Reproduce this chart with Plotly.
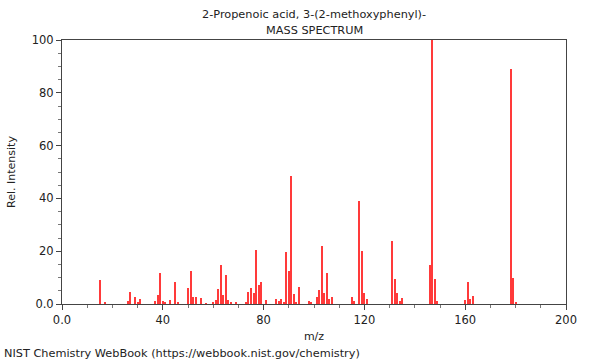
import plotly.graph_objects as go

mz = [15, 17, 26, 27, 29, 30, 31, 37, 38, 39, 40, 41, 43, 45, 46,
      50, 51, 52, 53, 55, 57, 60, 61, 62, 63, 64, 65, 66, 67, 69,
      73, 74, 75, 76, 77, 78, 79, 81, 85, 86, 87, 88, 89, 90, 91, 92, 93, 94,
      98, 99, 101, 102, 103, 104, 105, 106, 107, 115, 116, 118, 119, 120, 121,
      131, 132, 133, 134, 135, 146, 147, 148, 149, 160, 161, 162, 163, 178, 179, 180]
intensity = [9.1, 0.5, 1.1, 4.7, 2.5, 0.9, 1.8, 1.1, 3.4, 11.6, 1.1, 0.9, 1.4, 8.5, 0.4,
             6.1, 12.5, 2.5, 2.8, 2.1, 0.3, 0.4, 1.5, 5.7, 14.8, 3.4, 10.9, 1.5, 0.6, 0.6,
             0.6, 4.5, 6.2, 4.3, 20.4, 7.3, 8.5, 1.5, 1.8, 1.3, 1.8, 0.6, 19.6, 12.5, 48.5, 3.7, 0.6, 6.6,
             1.0, 0.5, 2.5, 5.2, 22.1, 4.0, 11.7, 1.8, 2.7, 2.7, 1.3, 38.9, 20.1, 4.0, 1.9,
             23.9, 9.5, 4.0, 1.1, 2.3, 14.6, 100.0, 9.5, 1.3, 1.5, 8.2, 2.0, 3.0, 89.0, 10.0, 0.6]

x_tickvals = [0, 40, 80, 120, 160, 200]
x_ticktext = ["0.0", "40", "80", "120", "160", "200"]
y_tickvals = [0, 20, 40, 60, 80, 100]
y_ticktext = ["0.0", "20", "40", "60", "80", "100"]

title_line1 = "2-Propenoic acid, 3-(2-methoxyphenyl)-"
title_line2 = "MASS SPECTRUM"
footer = "NIST Chemistry WebBook (https://webbook.nist.gov/chemistry)"

FONT = "DejaVu Sans"
AX = "#444444"
TXT = "#222222"

fig = go.Figure()
fig.add_trace(go.Bar(x=mz, y=intensity, width=0.4,
                     marker=dict(color="#ff3a3a", line=dict(width=0))))

fig.update_layout(
    width=600, height=360,
    margin=dict(l=62, r=34, t=40, b=56, autoexpand=False),
    paper_bgcolor="white", plot_bgcolor="white",
    showlegend=False, bargap=0,
    font=dict(family=FONT, size=11, color=TXT),
)
fig.update_xaxes(
    range=[0, 200], tickvals=x_tickvals, ticktext=x_ticktext,
    ticks="outside", ticklen=5, tickcolor=AX, tickwidth=1,
    minor=dict(dtick=10, ticks="outside", ticklen=3, tickcolor="#777777"),
    showline=True, linecolor=AX, linewidth=1, mirror=True,
    showgrid=False, zeroline=False, automargin=False,
    tickfont=dict(size=11.5, family=FONT, color=TXT),
    title=dict(text="m/z", font=dict(size=11, family=FONT, color=TXT), standoff=6),
)
fig.update_yaxes(
    range=[0, 100], tickvals=y_tickvals, ticktext=y_ticktext,
    ticks="outside", ticklen=5, tickcolor=AX, tickwidth=1,
    minor=dict(dtick=5, ticks="outside", ticklen=3, tickcolor="#777777"),
    showline=True, linecolor=AX, linewidth=1, mirror=True,
    showgrid=False, zeroline=False, automargin=False,
    tickfont=dict(size=11.5, family=FONT, color=TXT),
    title=dict(text="Rel. Intensity", font=dict(size=11, family=FONT, color=TXT), standoff=13),
)

fig.add_annotation(text=title_line1, xref="paper", yref="paper", x=0.5, y=1,
                   yshift=26, showarrow=False, xanchor="center", yanchor="middle",
                   font=dict(size=11.3, family=FONT, color=TXT))
fig.add_annotation(text=title_line2, xref="paper", yref="paper", x=0.5, y=1,
                   yshift=10, showarrow=False, xanchor="center", yanchor="middle",
                   font=dict(size=11.3, family=FONT, color=TXT))
fig.add_annotation(text=footer, xref="paper", yref="paper", x=-60/504, y=0,
                   yshift=-49, showarrow=False, xanchor="left", yanchor="middle",
                   font=dict(size=11.3, family=FONT, color=TXT))

fig.write_html("out.html", config={"displayModeBar": False},
               post_script="document.body.style.margin='0';")
